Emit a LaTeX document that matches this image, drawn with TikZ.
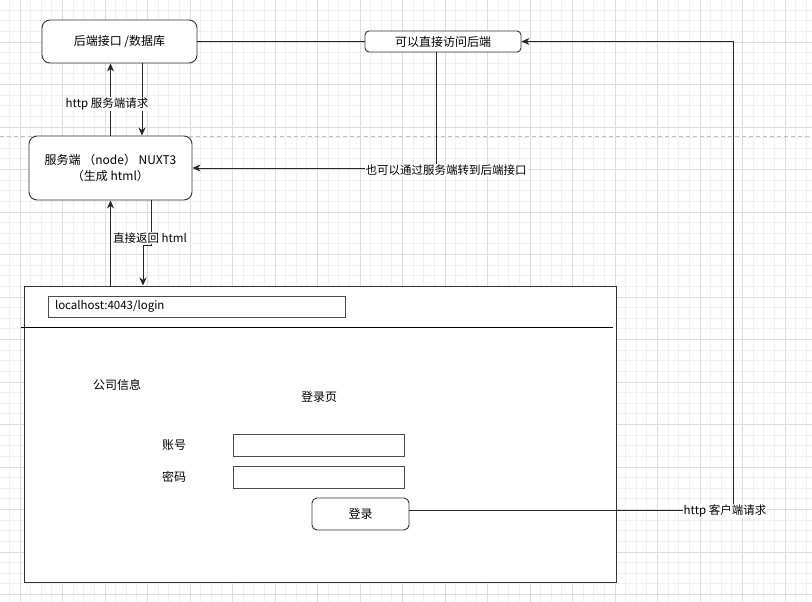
\documentclass[tikz,border=0pt]{standalone}
\usepackage{fontspec}
\setmainfont{Noto Sans CJK SC}
\usepackage{xcolor}
\usetikzlibrary{arrows.meta,positioning}
\tikzset{>={Stealth[length=8pt,width=7pt,inset=2.5pt]}}
\definecolor{gridminor}{HTML}{F0F0F0}
\definecolor{gridmajor}{HTML}{DCDCDC}

\begin{document}
\begin{tikzpicture}[x=1pt,y=-1pt,
              box/.style={draw=black!80, line width=0.9pt, rounded corners=8pt, fill=white, align=center, inner sep=0pt, font=\fontsize{12}{16}\selectfont},
              field/.style={draw=black!70, line width=1pt, fill=white, inner sep=0pt},
              txt/.style={font=\fontsize{12}{14}\selectfont},
              lbl/.style={fill=white, inner sep=1pt, font=\fontsize{11.5}{14}\selectfont},
              conn/.style={line width=0.9pt, black!85},
             ]

\useasboundingbox (0,0) rectangle (812,602);

% grid
\begin{scope}
\clip (0,0) rectangle (812,602);
\foreach \i in {0,...,76} \draw[gridminor, line width=0.8pt] (9.375+\i*10.625,0) -- (9.375+\i*10.625,602);
\foreach \i in {0,...,56} \draw[gridminor, line width=0.8pt] (0,10.125+\i*10.625) -- (812,10.125+\i*10.625);
\foreach \i in {0,...,19} \draw[gridmajor, line width=0.8pt] (20+\i*42.5,0) -- (20+\i*42.5,602);
\foreach \i in {0,...,13} \draw[gridmajor, line width=0.8pt] (0,42+\i*42.5) -- (812,42+\i*42.5);
\end{scope}
\draw[black!25, dashed, dash pattern=on 4pt off 3pt, line width=0.8pt] (0,136.5) -- (812,136.5);

% server side
\node[box, minimum width=155pt, minimum height=43pt] (backend) at (119.5,41.5) {后端接口 /数据库};
\node[box, minimum width=163pt, minimum height=64pt] (server) at (110.5,168) {服务端 （node） NUXT3\\（生成 html）};
\node[box, rounded corners=4pt, minimum width=156pt, minimum height=21pt] (direct) at (443,41.5) {可以直接访问后端};

% browser
\node[draw=black!80, line width=1pt, fill=white, minimum width=592pt, minimum height=296pt, inner sep=0pt] (browser) at (320,434) {};
\draw[black, line width=1pt] (21,327) -- (613,327);
\node[field, minimum width=297pt, minimum height=21pt, text width=283pt, inner xsep=7pt, align=left, font=\fontsize{11.5}{14}\selectfont] (url) at (196.5,306.5) {localhost:4043/login};
\node[txt] (company) at (117,385) {公司信息};
\node[txt] (title) at (319,397) {登录页};
\node[txt] (acct) at (174,445) {账号};
\node[field, minimum width=171pt, minimum height=22pt] (acctin) at (318.5,445) {};
\node[txt] (pwd) at (174,477) {密码};
\node[field, minimum width=171pt, minimum height=22pt] (pwdin) at (318.5,477) {};
\node[box, rounded corners=5pt, minimum width=97pt, minimum height=32pt] (login) at (360.5,514) {登录};

% connectors
\draw[conn] (backend.east) -- (direct.west);
\coordinate (clientturn) at (733,510);
\draw[conn,->] ([yshift=4pt]login.east) -- (clientturn) |- (direct.east);
\node[lbl] (clientlbl) at (725,511) {http 客户端请求};

\draw[conn,->] ([xshift=-7pt]direct.south) |- (server.east);
\node[lbl] (viaserver) at (446,170) {也可以通过服务端转到后端接口};

\draw[conn,->] ([xshift=22.5pt]backend.south) coordinate (reqdown) -- (reqdown |- server.north);
\draw[conn,->] (server.north) -- (server.north |- backend.south);
\node[lbl] (serverreq) at (107,104) {http 服务端请求};

\draw[conn,->] (server.south |- browser.north) -- (server.south);
\coordinate (htmljog) at (143,245);
\draw[conn,->] ([xshift=40.5pt]server.south) |- (htmljog) -- (htmljog |- browser.north);
\node[lbl] (htmlback) at (150,238) {直接返回 html};
\end{tikzpicture}
\end{document}
